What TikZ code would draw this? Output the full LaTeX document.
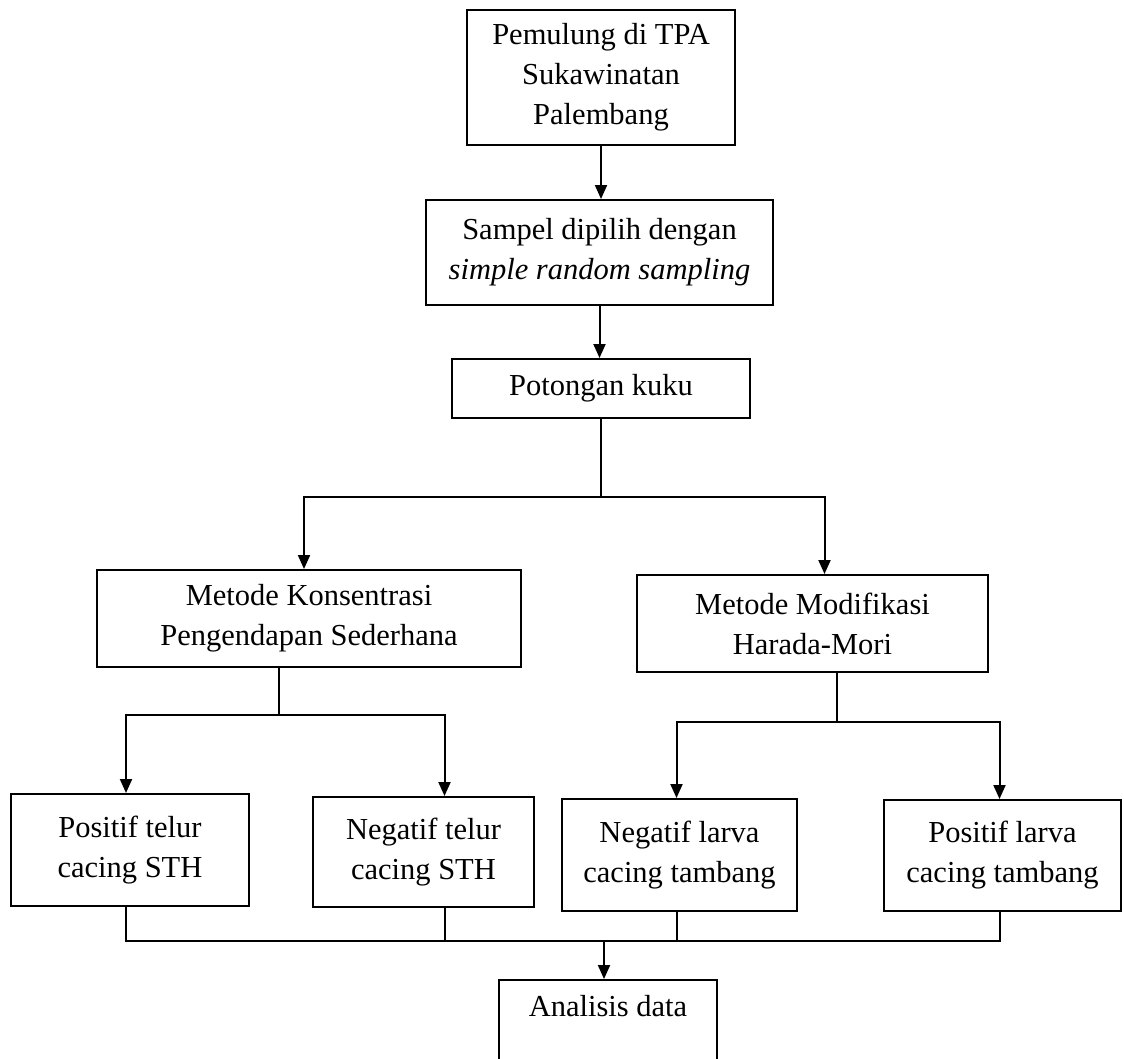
\documentclass[tikz,border=0pt]{standalone}
\usepackage{fontspec}
\setmainfont{Liberation Serif}
\usetikzlibrary{arrows.meta}

\tikzset{
	kotak/.style={draw, line width=2pt, align=center, inner sep=0pt, font=\fontsize{30.5}{40}\selectfont},
	garis/.style={line width=2pt},
	panah/.style={-{Triangle[length=14pt,width=12pt]}},
}

\begin{document}
\begin{tikzpicture}[x=1pt, y=-1pt]
		\useasboundingbox (0,0) rectangle (1124,1058);
		\node[kotak, minimum width=268pt, minimum height=135pt] (pemulung) at (601,77.5) {Pemulung di TPA\\Sukawinatan\\Palembang};
		\node[kotak, minimum width=347pt, minimum height=105pt] (sampel) at (599.5,252.5) {Sampel dipilih dengan\\\textit{simple random sampling}};
		\node[kotak, minimum width=298pt, minimum height=59pt] (kuku) at (601,388.5) {Potongan kuku};
		\node[kotak, minimum width=424pt, minimum height=97pt] (konsentrasi) at (309,618.5) {Metode Konsentrasi\\Pengendapan Sederhana};
		\node[kotak, minimum width=351pt, minimum height=97pt] (harada) at (812.5,623.5) {Metode Modifikasi\\Harada-Mori};
		\node[kotak, minimum width=238pt, minimum height=112pt] (posTelur) at (130,850) {Positif telur\\cacing STH};
		\node[kotak, minimum width=221pt, minimum height=110pt] (negTelur) at (423.5,852) {Negatif telur\\cacing STH};
		\node[kotak, minimum width=235pt, minimum height=112pt] (negLarva) at (679.5,855) {Negatif larva\\cacing tambang};
		\node[kotak, minimum width=237pt, minimum height=111pt] (posLarva) at (1002.5,855.5) {Positif larva\\cacing tambang};
		\node[kotak, minimum width=218pt, text height=36pt, text depth=65pt, anchor=north] (analisis) at (608,979) {Analisis data};
		\coordinate (temu) at (604,940);

		\draw[garis, panah] (pemulung.south) -- (pemulung.south |- sampel.north);
		\draw[garis, panah] (sampel.south) -- (sampel.south |- kuku.north);
		\draw[garis, panah] (kuku.south) -- ++(0,78) -| ([xshift=-5pt]konsentrasi.north);
		\draw[garis, panah] (kuku.south) -- ++(0,78) -| ([xshift=12pt]harada.north);
		\draw[garis, panah] ([xshift=-30pt]konsentrasi.south) -- ++(0,47) -| ([xshift=-4pt]posTelur.north);
		\draw[garis, panah] ([xshift=-30pt]konsentrasi.south) -- ++(0,47) -| ([xshift=21pt]negTelur.north);
		\draw[garis, panah] ([xshift=24pt]harada.south) -- ++(0,49) -| ([xshift=-3pt]negLarva.north);
		\draw[garis, panah] ([xshift=24pt]harada.south) -- ++(0,49) -| ([xshift=-3pt]posLarva.north);
		\draw[garis] ([xshift=-4pt]posTelur.south) -- ++(0,34) -| ([xshift=-3pt]posLarva.south);
		\draw[garis] ([xshift=21pt]negTelur.south) -- ++(0,33);
		\draw[garis] ([xshift=-3pt]negLarva.south) -- ++(0,29);
		\draw[garis, panah] (temu) -- (temu |- analisis.north);
	\end{tikzpicture}
\end{document}
